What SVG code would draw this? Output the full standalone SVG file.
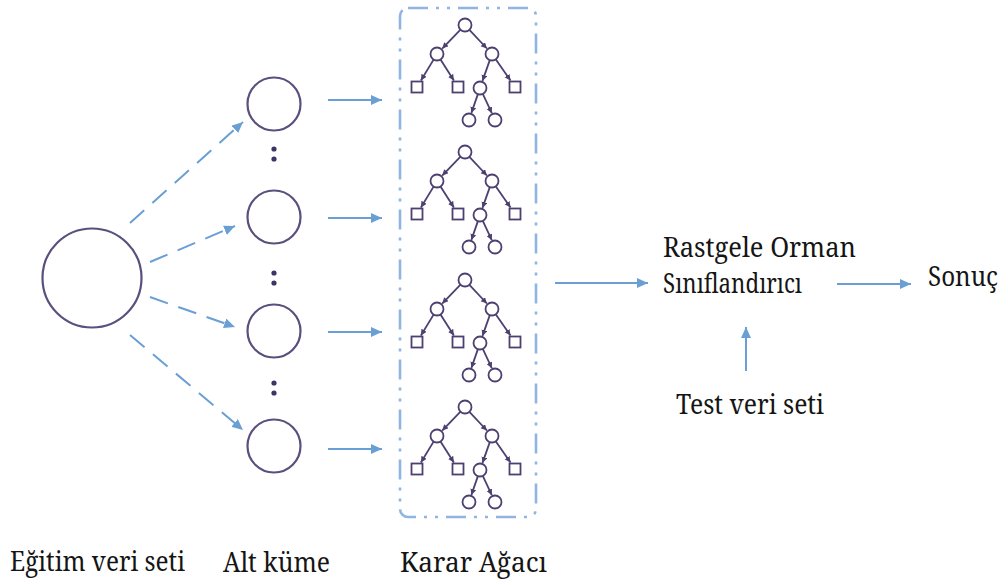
<svg xmlns="http://www.w3.org/2000/svg" xmlns:xlink="http://www.w3.org/1999/xlink" width="1008" height="585" viewBox="0 0 1008 585">
<style>
.node{fill:#ffffff;stroke:#5b4f7d;stroke-width:2.2}
.dot{fill:#3b3566}
.conn{stroke:#6a9fd4;stroke-width:2;fill:none}
.dash{stroke-dasharray:19 11}
.tree .e{stroke:#4d4070;stroke-width:1.8;fill:none}
.tree .s{fill:#ffffff;stroke:#4d4070;stroke-width:1.8}
.box{fill:none;stroke:#8fb5e0;stroke-width:2.6;stroke-dasharray:20 8 3 8 3 8}
.lbl{font-family:"Noto Serif","DejaVu Serif",serif;font-size:27px;fill:#151515}
</style>
<defs>
<marker id="ah" markerUnits="userSpaceOnUse" markerWidth="12" markerHeight="10" refX="11" refY="5" orient="auto">
<path d="M0,0 L11,5 L0,10 z" fill="#6a9fd4"/>
</marker>
<marker id="th" markerUnits="userSpaceOnUse" markerWidth="7" markerHeight="7" refX="6" refY="3" orient="auto">
<path d="M0,0 L6,3 L0,6 z" fill="#4d4070"/>
</marker>
<g id="tree" class="tree">
<line class="e" x1="-4.5" y1="4.7" x2="-22.8" y2="23.6" marker-end="url(#th)"/>
<line class="e" x1="4.4" y1="4.8" x2="21.9" y2="23.5" marker-end="url(#th)"/>
<line class="e" x1="-31.4" y1="34.6" x2="-44.1" y2="55.5" marker-end="url(#th)"/>
<line class="e" x1="-24.5" y1="34.5" x2="-11.1" y2="55.5" marker-end="url(#th)"/>
<line class="e" x1="24.8" y1="35.1" x2="17.5" y2="55.9" marker-end="url(#th)"/>
<line class="e" x1="30.7" y1="34.3" x2="45.5" y2="55.5" marker-end="url(#th)"/>
<line class="e" x1="12.9" y1="69.1" x2="6.4" y2="87.9" marker-end="url(#th)"/>
<line class="e" x1="17.8" y1="68.9" x2="26.8" y2="88.2" marker-end="url(#th)"/>
<circle class="s" cx="0" cy="0" r="6.5"/>
<circle class="s" cx="-28" cy="29" r="6.5"/>
<circle class="s" cx="27" cy="29" r="6.5"/>
<rect class="s" x="-53.5" y="56.5" width="11" height="11"/>
<rect class="s" x="-12.5" y="56.5" width="11" height="11"/>
<rect class="s" x="44.5" y="56.5" width="11" height="11"/>
<circle class="s" cx="15" cy="63" r="6.5"/>
<circle class="s" cx="4" cy="95" r="6.5"/>
<circle class="s" cx="30" cy="95" r="6.5"/>
</g>
</defs>

<g id="connectors">
<line class="conn dash" x1="130" y1="223" x2="243" y2="122" marker-end="url(#ah)"/>
<line class="conn dash" x1="150" y1="262" x2="235" y2="226" marker-end="url(#ah)"/>
<line class="conn dash" x1="150" y1="297" x2="235" y2="327" marker-end="url(#ah)"/>
<line class="conn dash" x1="130" y1="335" x2="243" y2="430" marker-end="url(#ah)"/>
<line class="conn" x1="328" y1="100" x2="382" y2="100" marker-end="url(#ah)"/>
<line class="conn" x1="328" y1="218" x2="382" y2="218" marker-end="url(#ah)"/>
<line class="conn" x1="328" y1="332" x2="382" y2="332" marker-end="url(#ah)"/>
<line class="conn" x1="328" y1="449" x2="382" y2="449" marker-end="url(#ah)"/>
<line class="conn" x1="555" y1="283" x2="648" y2="283" marker-end="url(#ah)"/>
<line class="conn" x1="837" y1="284" x2="911" y2="284" marker-end="url(#ah)"/>
<line class="conn" x1="746" y1="371" x2="746" y2="327" marker-end="url(#ah)"/>
</g>

<g id="egitim-veri-seti">
<circle class="node" cx="92" cy="278" r="49.5"/>
<text class="lbl" x="10" y="571" textLength="175" lengthAdjust="spacingAndGlyphs">Eğitim veri seti</text>
</g>

<g id="alt-kume">
<circle class="node" cx="274" cy="104" r="26.5"/>
<circle class="node" cx="274" cy="217" r="26.5"/>
<circle class="node" cx="274" cy="331" r="26.5"/>
<circle class="node" cx="274" cy="446" r="26.5"/>
<circle class="dot" cx="274" cy="149" r="2.6"/>
<circle class="dot" cx="274" cy="159" r="2.6"/>
<circle class="dot" cx="274" cy="273" r="2.6"/>
<circle class="dot" cx="274" cy="283" r="2.6"/>
<circle class="dot" cx="274" cy="383" r="2.6"/>
<circle class="dot" cx="274" cy="393" r="2.6"/>
<text class="lbl" x="223" y="572" textLength="107" lengthAdjust="spacingAndGlyphs">Alt küme</text>
</g>

<g id="karar-agaci">
<rect class="box" x="400" y="8" width="136" height="509" rx="8"/>
<use xlink:href="#tree" href="#tree" transform="translate(465,25)"/>
<use xlink:href="#tree" href="#tree" transform="translate(465,152)"/>
<use xlink:href="#tree" href="#tree" transform="translate(465,280)"/>
<use xlink:href="#tree" href="#tree" transform="translate(465,407)"/>
<text class="lbl" x="400" y="572" textLength="147" lengthAdjust="spacingAndGlyphs">Karar Ağacı</text>
</g>

<g id="rastgele-orman">
<text class="lbl" x="663" y="257" textLength="193" lengthAdjust="spacingAndGlyphs">Rastgele Orman</text>
<text class="lbl" x="663" y="293" textLength="139" lengthAdjust="spacingAndGlyphs">Sınıflandırıcı</text>
</g>

<g id="sonuc">
<text class="lbl" x="928" y="286" textLength="70" lengthAdjust="spacingAndGlyphs">Sonuç</text>
</g>

<g id="test-veri-seti">
<text class="lbl" x="676" y="414" textLength="148" lengthAdjust="spacingAndGlyphs">Test veri seti</text>
</g>
</svg>
